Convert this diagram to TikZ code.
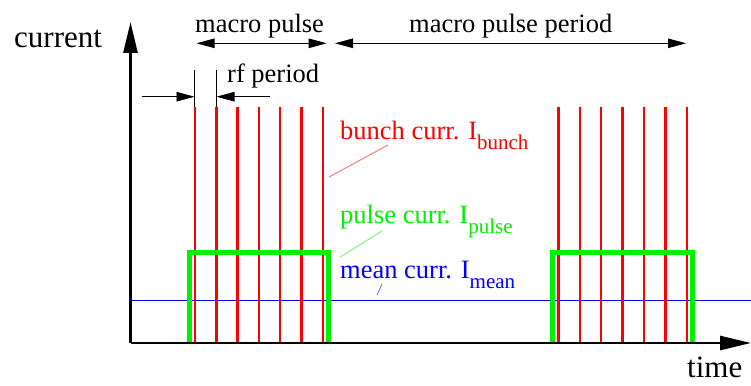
\documentclass[tikz,border=0pt]{standalone}
\usepackage{fontspec}
\setmainfont{Liberation Serif}
\usetikzlibrary{arrows.meta}
\definecolor{rd}{RGB}{255,0,0}
\definecolor{gn}{RGB}{0,240,0}
\definecolor{bl}{RGB}{0,0,255}
\tikzset{
  axisline/.style={line width=2.6pt,-{Triangle[length=31pt,width=14pt]}},
  dimarrow/.style={line width=0.9pt,-{Triangle[length=18pt,width=9.5pt]}},
  dimboth/.style={line width=0.9pt,{Triangle[length=18pt,width=9.5pt]}-{Triangle[length=18pt,width=9.5pt]}},
  bunchline/.style={rd,line width=2.4pt},
  pulseline/.style={gn,line width=4.6pt,line join=miter},
  meanline/.style={bl,line width=0.9pt},
  lbl/.style={inner sep=0pt,anchor=base west},
  big/.style={font=\fontsize{26.5}{28}\selectfont},
  leader/.style={line width=0.8pt}
}
\newcommand{\sublbl}[1]{\raisebox{-10pt}{\fontsize{21}{22}\selectfont #1}}
\begin{document}
\begin{tikzpicture}[x=1pt,y=-1pt]
\useasboundingbox (0,0) rectangle (751,385);
% axes
\coordinate (O) at (130.5,343);
\coordinate (Ytop) at (130.5,22);
\coordinate (Xend) at (751,343);
% mean current
\coordinate (M0) at (130.5,300.5);
\coordinate (M1) at (751,300.5);
\draw[meanline] (M0) -- (M1);
% bunches
\foreach \i in {0,...,6}{
  \coordinate (a\i) at ({195+21.3*\i},107);
  \coordinate (ab\i) at ({195+21.3*\i},343);
  \draw[bunchline] (a\i) -- (ab\i);
  \coordinate (b\i) at ({558.3+21.45*\i},107);
  \coordinate (bb\i) at ({558.3+21.45*\i},343);
  \draw[bunchline] (b\i) -- (bb\i);
}
% pulses
\coordinate (p1a) at (189.5,343);
\coordinate (p1b) at (189.5,252.3);
\coordinate (p1c) at (328.5,252.3);
\coordinate (p1d) at (328.5,343);
\draw[pulseline] (p1a) -- (p1b) -- (p1c) -- (p1d);
\coordinate (p2a) at (552.5,343);
\coordinate (p2b) at (552.5,252.3);
\coordinate (p2c) at (692.3,252.3);
\coordinate (p2d) at (692.3,343);
\draw[pulseline] (p2a) -- (p2b) -- (p2c) -- (p2d);
% axes on top
\draw[axisline] (O) -- (Ytop);
\draw[axisline] (O) -- (Xend);
% axis labels
\node[lbl,font=\fontsize{31}{32}\selectfont] (cur) at (14,48) {current};
\node[lbl,font=\fontsize{31}{32}\selectfont,text depth=0pt] (tim) at (687,377) {time};
% macro pulse
\coordinate (mp0) at (196.5,43.3);
\coordinate (mp1) at (326.7,43.3);
\draw[dimboth] (mp0) -- (mp1);
\node[lbl,big] (mpl) at (195,33) {macro pulse};
\coordinate (mpp0) at (335,43.3);
\coordinate (mpp1) at (686,43.3);
\draw[dimboth] (mpp0) -- (mpp1);
\node[lbl,big] (mppl) at (409,33) {macro pulse period};
% rf period
\coordinate (t0a) at (194.5,70);
\coordinate (t0b) at (194.5,107);
\coordinate (t1a) at (216.5,70);
\coordinate (t1b) at (216.5,107);
\draw[line width=0.9pt] (t0a) -- (t0b);
\draw[line width=0.9pt] (t1a) -- (t1b);
\coordinate (rfL) at (141.5,96.7);
\coordinate (rfLt) at (194.5,96.7);
\coordinate (rfR) at (270,96.7);
\coordinate (rfRt) at (216.5,96.7);
\draw[dimarrow] (rfL) -- (rfLt);
\draw[dimarrow] (rfR) -- (rfRt);
\node[lbl,big] (rfl) at (227,83) {rf period};
% labels
\node[lbl,big,text=rd] (bl) at (340,139) {bunch curr. I\sublbl{bunch}};
\node[lbl,big,text=gn] (pl) at (340,223) {pulse curr. I\sublbl{pulse}};
\node[lbl,big,text=bl] (ml) at (340,278) {mean curr. I\sublbl{mean}};
% leaders
\coordinate (lb0) at (329,177);
\coordinate (lb1) at (388,145);
\draw[leader,rd!60] (lb0) -- (lb1);
\coordinate (lp0) at (340,257);
\coordinate (lp1) at (382,231);
\draw[leader,gn!60] (lp0) -- (lp1);
\coordinate (lm0) at (377,295);
\coordinate (lm1) at (382,284);
\draw[leader,bl!60] (lm0) -- (lm1);
\end{tikzpicture}
\end{document}
